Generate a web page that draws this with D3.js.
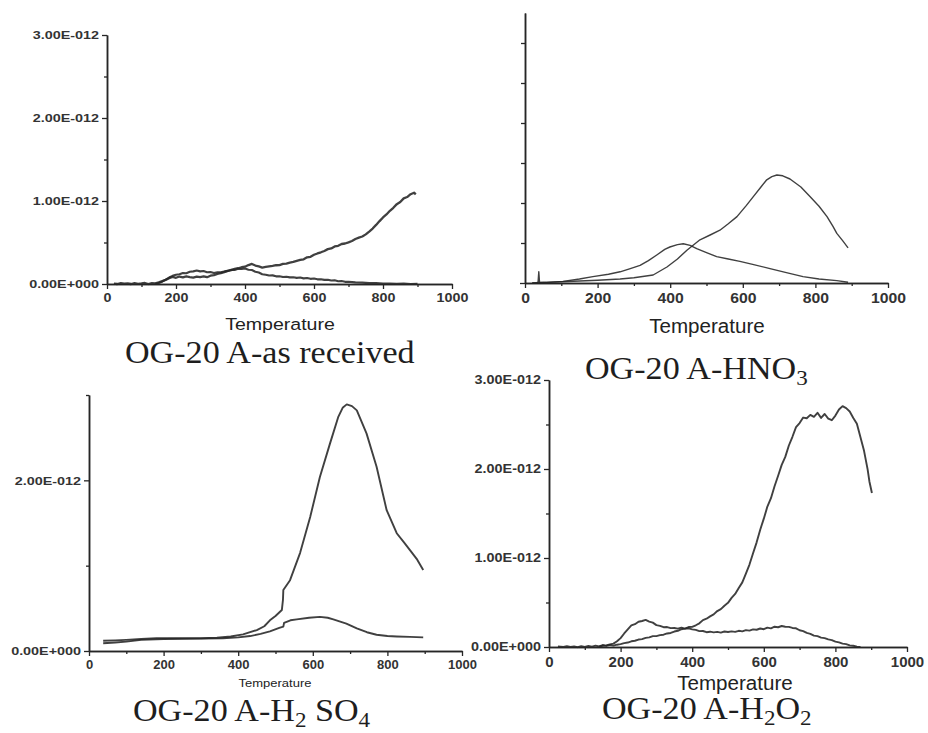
<!DOCTYPE html>
<html>
<head>
<meta charset="utf-8">
<script src="https://cdn.jsdelivr.net/npm/d3@7"></script>
<style>
  body { margin: 0; background: #fff; }
  svg  { display: block; }
</style>
</head>
<body>
<svg id="chart" width="928" height="733"></svg>
<script>
/* ------------------------------------------------------------------
   Data  (temperature °C, signal in units of 1E-012)
   ------------------------------------------------------------------ */
const xTicks      = [0, 200, 400, 600, 800, 1000];
const xMinorTicks = [100, 300, 500, 700, 900];

// OG-20 A as received
const asRecHigh = [[20,.005],[30,0],[40,.01],[50,.003],[60,.006],[70,0],[80,.01],[90,.002],[100,.006],[110,.012],[120,0],[130,.01],[140,.008],
  [150,.02],[160,.035],[170,.05],[180,.07],[190,.085],[200,.075],[210,.09],[220,.08],[230,.092],[240,.083],[250,.078],[260,.09],[270,.084],[280,.092],[290,.082],
  [300,.1],[310,.108],[320,.122],[330,.13],[340,.142],[350,.158],[360,.168],[370,.182],[380,.19],[390,.202],[400,.208],[410,.228],[420,.242],[430,.222],[440,.212],
  [450,.198],[460,.206],[470,.212],[480,.218],[490,.226],[500,.228],[510,.242],[520,.246],[530,.258],[540,.266],[550,.278],[560,.29],[570,.298],[580,.322],[590,.328],
  [600,.352],[610,.368],[620,.382],[630,.398],[640,.42],[650,.428],[660,.452],[670,.46],[680,.482],[690,.488],[700,.502],[710,.518],[720,.542],[730,.558],[740,.572],
  [750,.598],[760,.632],[770,.668],[780,.712],[790,.758],[800,.802],[810,.838],[820,.882],[830,.918],[840,.962],[850,.988],[860,1.032],[870,1.048],[880,1.082],[890,1.1],[895,1.08]];
const asRecLow = [[140,0],[150,.012],[160,.028],[170,.052],[180,.078],[190,.098],[200,.112],[210,.118],[220,.132],[230,.13],[240,.148],[250,.152],[260,.162],[270,.152],
  [280,.156],[290,.142],[300,.144],[310,.132],[320,.142],[330,.14],[340,.152],[350,.158],[360,.172],[370,.17],[380,.184],[390,.18],[400,.186],[410,.172],[420,.168],
  [430,.148],[440,.138],[450,.118],[460,.112],[470,.102],[480,.104],[490,.092],[500,.094],[510,.084],[520,.088],[530,.08],[540,.082],[550,.074],[560,.078],[570,.068],
  [580,.072],[590,.062],[600,.066],[610,.056],[620,.058],[630,.05],[640,.052],[650,.042],[660,.044],[670,.034],[680,.036],[690,.026],[700,.028],[720,.02],[740,.016],
  [760,.01],[780,.01],[800,.004],[820,.006],[840,.002],[860,.004],[880,0],[900,.002]];

// OG-20 A-HNO3
const hno3High = [[20,0],[35,.005],[60,.01],[100,.015],[150,.025],[200,.035],[262,.05],[300,.065],[353,.1],[391,.2],[420,.3],[446,.41],[482,.54],[510,.6],
  [537,.66],[560,.74],[584,.83],[610,.97],[629,1.08],[650,1.2],[666,1.29],[680,1.33],[694,1.35],[710,1.34],[730,1.3],[760,1.2],[785,1.08],[810,.96],[832,.83],
  [848,.71],[859,.62],[875,.53],[890,.44]];
const hno3Low = [[20,0],[32,.005],[36,.01],[38,.14],[40,.01],[60,.005],[105,.02],[150,.05],[187,.08],[230,.11],[262,.14],[290,.18],[317,.22],[340,.28],[363,.35],
  [385,.42],[399,.45],[420,.48],[436,.49],[455,.47],[473,.43],[500,.38],[528,.33],[560,.3],[592,.27],[630,.23],[675,.18],[720,.13],[766,.08],[810,.05],[859,.03],[890,.01]];

// OG-20 A-H2SO4
const h2so4High = [[38,.12],[70,.125],[100,.13],[140,.14],[181,.15],[250,.15],[300,.15],[343,.155],[380,.17],[413,.195],[450,.245],[470,.29],[485,.36],[500,.41],
  [517,.48],[520,.6],[521,.715],[539,.83],[566,1.15],[593,1.57],[619,2.04],[646,2.43],[668,2.74],[680,2.85],[691,2.89],[705,2.87],[718,2.82],[744,2.55],[771,2.16],
  [798,1.65],[825,1.38],[845,1.27],[861,1.18],[880,1.07],[896,.95]];
const h2so4Low = [[38,.09],[70,.1],[100,.11],[140,.13],[200,.14],[300,.145],[359,.15],[400,.16],[432,.175],[460,.2],[485,.23],[510,.27],[521,.285],[523,.33],
  [540,.36],[557,.37],[590,.39],[619,.4],[640,.39],[655,.37],[690,.32],[718,.265],[745,.22],[771,.19],[800,.175],[825,.17],[860,.165],[896,.16]];

// OG-20 A-H2O2
const h2o2High = [[25,.005],[40,0],[50,.008],[60,.002],[70,.006],[80,-.002],[90,.01],[100,.002],[110,.012],[120,.004],[130,.016],[140,.006],[150,.022],[160,.012],
  [170,.024],[180,.016],[190,.026],[200,.032],[210,.044],[220,.05],[230,.064],[240,.07],[250,.084],[260,.088],[270,.102],[280,.108],[290,.122],[300,.122],[310,.134],
  [320,.138],[330,.152],[340,.158],[350,.174],[360,.182],[370,.2],[380,.206],[390,.224],[400,.226],[410,.244],[420,.266],[430,.302],[440,.318],[450,.344],[460,.366],
  [470,.404],[480,.426],[490,.464],[500,.496],[510,.552],[520,.596],[530,.664],[540,.726],[550,.824],[560,.926],[570,1.054],[580,1.176],[590,1.318],[600,1.442],
  [610,1.578],[620,1.672],[630,1.806],[640,1.924],[650,2.046],[660,2.136],[670,2.264],[680,2.362],[690,2.47],[700,2.516],[710,2.578],[720,2.57],[730,2.608],
  [740,2.586],[750,2.632],[760,2.574],[770,2.618],[780,2.566],[790,2.548],[800,2.6],[810,2.668],[820,2.706],[830,2.684],[840,2.646],[850,2.574],[860,2.508],
  [870,2.356],[880,2.204],[890,1.996],[895,1.86],[902,1.73]];
const h2o2Low = [[140,.004],[150,.014],[160,.018],[170,.03],[180,.038],[190,.064],[200,.1],[210,.152],[220,.198],[230,.242],[240,.256],[250,.284],[260,.292],
  [270,.304],[280,.286],[290,.274],[300,.246],[310,.238],[320,.222],[330,.224],[340,.212],[350,.214],[360,.206],[370,.218],[380,.206],[390,.21],[400,.198],[410,.192],
  [420,.178],[430,.18],[440,.166],[450,.172],[460,.164],[470,.17],[480,.162],[490,.174],[500,.168],[510,.176],[520,.17],[530,.182],[540,.176],[550,.19],[560,.184],
  [570,.198],[580,.194],[590,.208],[600,.2],[610,.218],[620,.21],[630,.228],[640,.222],[650,.236],[660,.228],[670,.226],[680,.214],[690,.21],[700,.188],[710,.178],
  [720,.158],[730,.148],[740,.128],[750,.122],[760,.106],[770,.1],[780,.086],[790,.078],[800,.06],[810,.052],[820,.038],[830,.032],[840,.018],[850,.014],[860,.004],[870,0]];

/* ------------------------------------------------------------------
   Panel layout
   ------------------------------------------------------------------ */
const svg = d3.select("#chart");
const INK = "#262626";

const panels = [
  { left:107, right:452, top:35,  bottom:284, yMax:3,
    yMajor:[0,1,2,3], yMinor:[0.5,1.5,2.5], yLabels:true, ySize:11.5, ySx:1.25,
    xSize:13, xSx:1.1, tSize:17, tSx:1.15, tX:280, tY:330,
    cap:[{t:"OG-20 A-as received"}], capX:125, capY:363,
    series:[{d:asRecHigh, w:2.3}, {d:asRecLow, w:2.1}] },
  { left:525, right:888, top:13,  bottom:283, yMax:3.375,
    yMajor:[0], yMinor:[0.5,1,1.5,2,2.5,3], yLabels:false, minorLen:4,
    xSize:15, xSx:1.05, tSize:20, tSx:1.03, tX:707, tY:333,
    cap:[{t:"OG-20 A-HNO"},{t:"3",sub:true}], capX:585, capY:379,
    series:[{d:hno3High, w:1.4}, {d:hno3Low, w:1.4}] },
  { left:89,  right:462, top:395, bottom:651, yMax:3,
    yMajor:[0,2], yMinor:[1,3], yLabels:true, ySize:11.5, ySx:1.25,
    xSize:13, xSx:1.0, tSize:10, tSx:1.3, tX:275, tY:687,
    cap:[{t:"OG-20 A-H"},{t:"2",sub:true},{t:" SO"},{t:"4",sub:true}], capX:133, capY:721,
    series:[{d:h2so4High, w:1.9}, {d:h2so4Low, w:1.9}] },
  { left:549, right:907, top:380, bottom:647, yMax:3,
    yMajor:[0,1,2,3], yMinor:[0.5,1.5,2.5], yLabels:true, ySize:12, ySx:1.2,
    xSize:15, xSx:1.0, tSize:20, tSx:1.03, tX:735, tY:690,
    cap:[{t:"OG-20 A-H"},{t:"2",sub:true},{t:"O"},{t:"2",sub:true}], capX:602, capY:719,
    series:[{d:h2o2High, w:1.9}, {d:h2o2Low, w:1.9}] }
];

const fmtY = v => v === 0 ? "0.00E+000" : v.toFixed(2) + "E-012";

function styleAxis(sel) {
  sel.select(".domain").attr("stroke", INK).attr("stroke-width", 1.5);
  sel.selectAll(".tick line").attr("stroke", INK).attr("stroke-width", 1.3);
}

function drawPanel(p) {
  const g = svg.append("g");
  const x = d3.scaleLinear().domain([0, 1000]).range([p.left, p.right]);
  const y = d3.scaleLinear().domain([0, p.yMax]).range([p.bottom, p.top]);

  /* ---------- x axis ---------- */
  g.append("g").attr("transform", `translate(0,${p.bottom})`)
    .call(d3.axisBottom(x).tickValues(xMinorTicks).tickSize(3).tickSizeOuter(0).tickFormat(""))
    .call(styleAxis);
  const ax = g.append("g").attr("transform", `translate(0,${p.bottom})`)
    .call(d3.axisBottom(x).tickValues(xTicks).tickSize(5).tickSizeOuter(0).tickPadding(4).tickFormat(d3.format("d")))
    .call(styleAxis);
  ax.selectAll("text")
    .attr("font-family", "Liberation Sans, Arial, sans-serif")
    .attr("font-size", p.xSize).attr("font-weight", "bold").attr("fill", "#333")
    .attr("transform", `scale(${p.xSx},1)`);

  /* ---------- y axis ---------- */
  g.append("g").attr("transform", `translate(${p.left},0)`)
    .call(d3.axisLeft(y).tickValues(p.yMinor).tickSize(p.minorLen || 3).tickSizeOuter(0).tickFormat(""))
    .call(styleAxis);
  const ay = g.append("g").attr("transform", `translate(${p.left},0)`)
    .call(d3.axisLeft(y).tickValues(p.yMajor).tickSize(5).tickSizeOuter(0).tickPadding(3)
      .tickFormat(p.yLabels ? fmtY : ""))
    .call(styleAxis);
  if (p.yLabels) {
    ay.selectAll("text")
      .attr("font-family", "Liberation Sans, Arial, sans-serif")
      .attr("font-size", p.ySize).attr("font-weight", "bold").attr("fill", "#333")
      .attr("x", -8 / p.ySx)
      .attr("transform", `scale(${p.ySx},1)`);
  }

  /* ---------- curves ---------- */
  const line = d3.line().x(d => x(d[0])).y(d => y(d[1]));
  p.series.forEach(s => {
    g.append("path").datum(s.d)
      .attr("d", line)
      .attr("fill", "none")
      .attr("stroke", INK)
      .attr("stroke-width", s.w)
      .attr("stroke-linejoin", "round")
      .attr("opacity", 0.88);
  });

  /* ---------- axis title ---------- */
  g.append("text")
    .attr("transform", `translate(${p.tX},${p.tY}) scale(${p.tSx},1)`)
    .attr("text-anchor", "middle")
    .attr("font-family", "Liberation Sans, Arial, sans-serif")
    .attr("font-size", p.tSize).attr("fill", "#222")
    .text("Temperature");

  /* ---------- caption (serif, with subscripts) ---------- */
  const cap = g.append("text")
    .attr("transform", `translate(${p.capX},${p.capY}) scale(1.1,1)`)
    .attr("font-family", "Liberation Serif, Times New Roman, serif")
    .attr("font-size", 31).attr("fill", "#1e1e1e");
  let down = false;
  p.cap.forEach(part => {
    const ts = cap.append("tspan").text(part.t);
    if (part.sub && !down) { ts.attr("font-size", 21).attr("dy", 6); down = true; }
    else if (!part.sub && down) { ts.attr("dy", -6); down = false; }
  });
}

panels.forEach(drawPanel);
</script>
</body>
</html>
